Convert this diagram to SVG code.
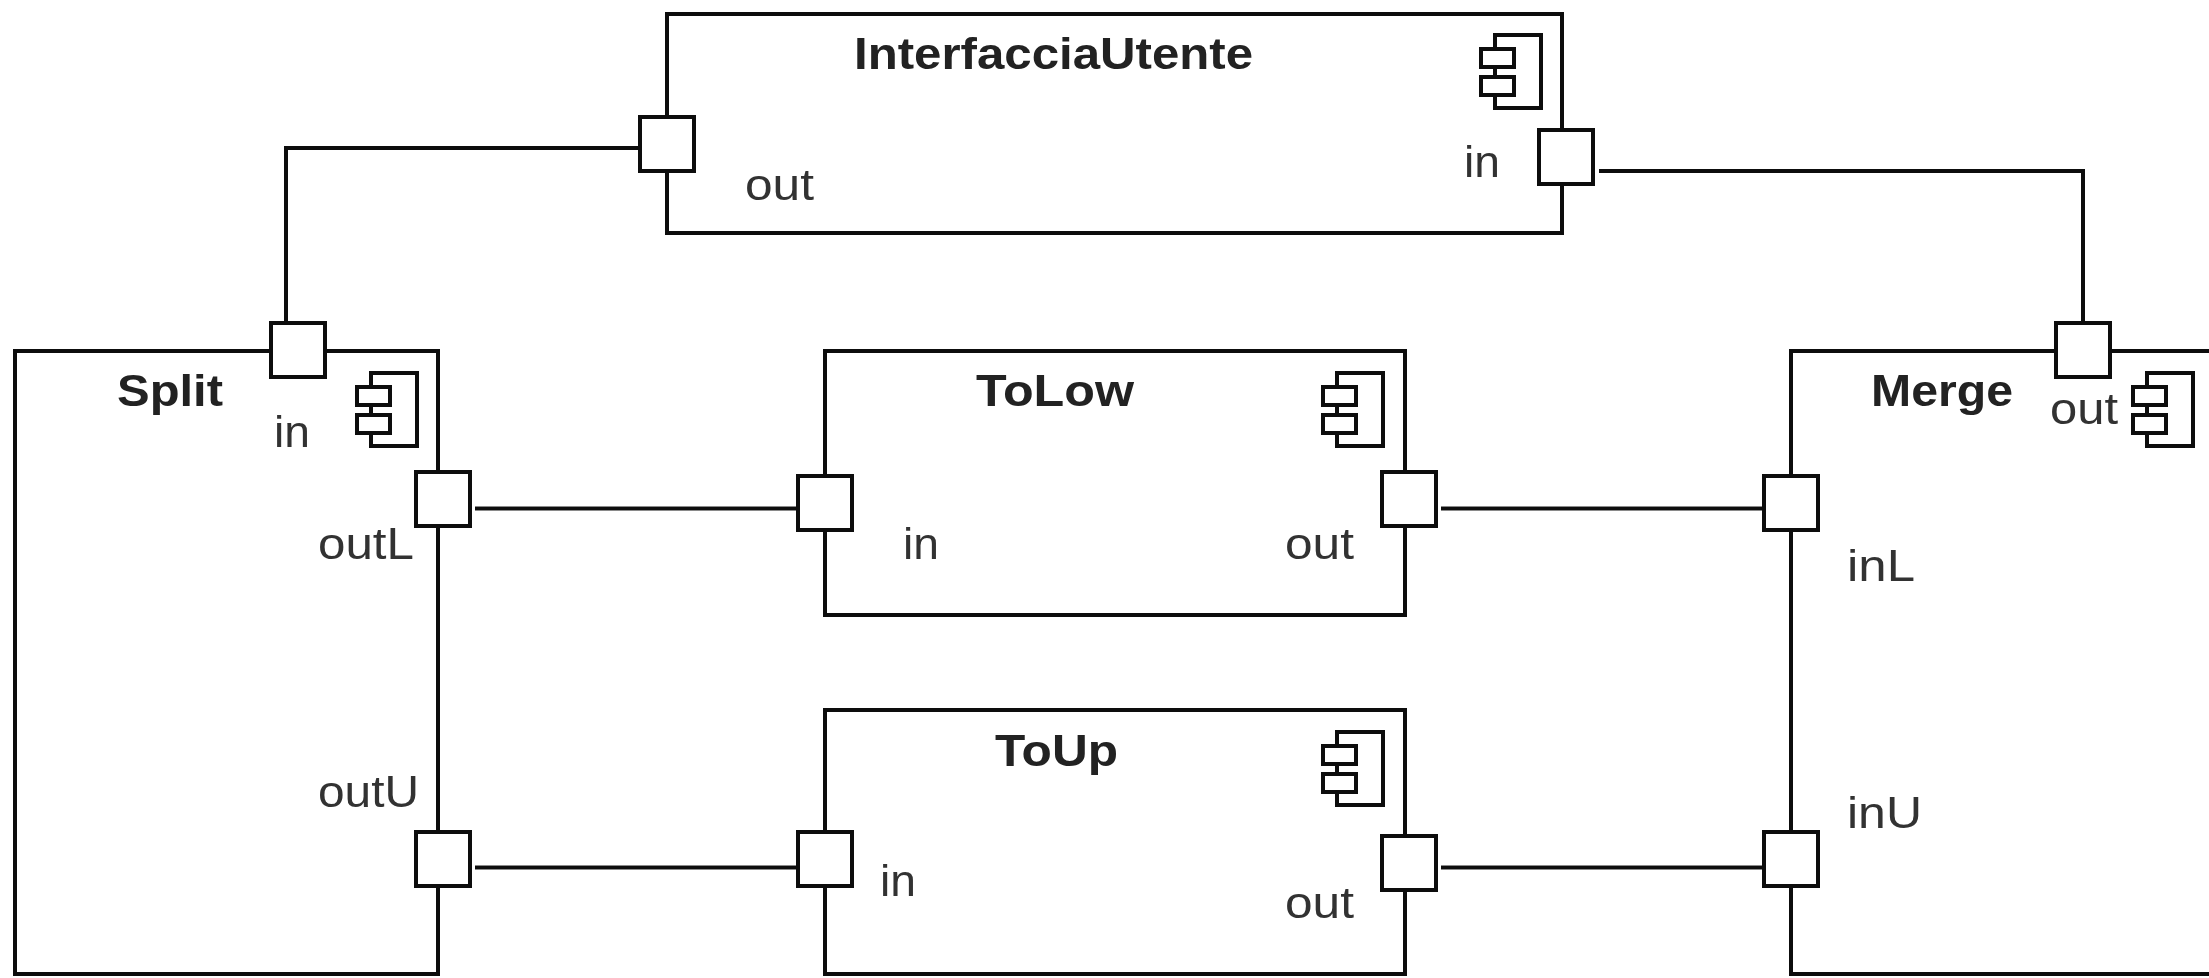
<svg xmlns="http://www.w3.org/2000/svg" width="2209" height="978" viewBox="0 0 2209 978">
<defs>
<style>
.b{fill:#fff;stroke:#111;stroke-width:4}
.c{fill:none;stroke:#111;stroke-width:4}
.t{font-family:"Liberation Sans",Arial,sans-serif;font-size:45px;font-weight:bold;fill:#222}
.l{font-family:"Liberation Sans",Arial,sans-serif;font-size:45px;fill:#333}
</style>
<filter id="soft" filterUnits="userSpaceOnUse" x="0" y="0" width="2209" height="978"><feGaussianBlur stdDeviation="0.7"/></filter>
<g id="icon">
<rect class="b" x="14" y="0" width="46" height="73"/>
<rect class="b" x="0" y="14" width="33" height="18"/>
<rect class="b" x="0" y="42" width="33" height="18"/>
</g>
</defs>
<rect width="2209" height="978" fill="#fff"/>
<g filter="url(#soft)">
<g id="connectors">
<path class="c" d="M640 148H286V321"/>
<path class="c" d="M1599 171H2083V322"/>
<path class="c" d="M475 508.500H797"/>
<path class="c" d="M1441 508.500H1764"/>
<path class="c" d="M475 867.500H797"/>
<path class="c" d="M1441 867.500H1764"/>
</g>
<g id="InterfacciaUtente">
<rect class="b" x="667" y="14" width="895" height="219"/>
<use href="#icon" x="1481" y="35"/>
<text class="t" x="854" y="69" textLength="399" lengthAdjust="spacingAndGlyphs">InterfacciaUtente</text>
<rect class="b" x="640" y="117" width="54" height="54"/>
<text class="l" x="745" y="200" textLength="69" lengthAdjust="spacingAndGlyphs">out</text>
<rect class="b" x="1539" y="130" width="54" height="54"/>
<text class="l" x="1464" y="177" textLength="36" lengthAdjust="spacingAndGlyphs">in</text>
</g>
<g id="Split">
<rect class="b" x="15" y="351" width="423" height="623"/>
<use href="#icon" x="357" y="373"/>
<text class="t" x="117" y="406" textLength="106" lengthAdjust="spacingAndGlyphs">Split</text>
<rect class="b" x="271" y="323" width="54" height="54"/>
<text class="l" x="274" y="447" textLength="36" lengthAdjust="spacingAndGlyphs">in</text>
<rect class="b" x="416" y="472" width="54" height="54"/>
<text class="l" x="318" y="559" textLength="96" lengthAdjust="spacingAndGlyphs">outL</text>
<rect class="b" x="416" y="832" width="54" height="54"/>
<text class="l" x="318" y="807" textLength="101" lengthAdjust="spacingAndGlyphs">outU</text>
</g>
<g id="ToLow">
<rect class="b" x="825" y="351" width="580" height="264"/>
<use href="#icon" x="1323" y="373"/>
<text class="t" x="976" y="406" textLength="158" lengthAdjust="spacingAndGlyphs">ToLow</text>
<rect class="b" x="798" y="476" width="54" height="54"/>
<text class="l" x="903" y="559" textLength="36" lengthAdjust="spacingAndGlyphs">in</text>
<rect class="b" x="1382" y="472" width="54" height="54"/>
<text class="l" x="1285" y="559" textLength="69" lengthAdjust="spacingAndGlyphs">out</text>
</g>
<g id="ToUp">
<rect class="b" x="825" y="710" width="580" height="264"/>
<use href="#icon" x="1323" y="732"/>
<text class="t" x="995" y="766" textLength="123" lengthAdjust="spacingAndGlyphs">ToUp</text>
<rect class="b" x="798" y="832" width="54" height="54"/>
<text class="l" x="880" y="896" textLength="36" lengthAdjust="spacingAndGlyphs">in</text>
<rect class="b" x="1382" y="836" width="54" height="54"/>
<text class="l" x="1285" y="918" textLength="69" lengthAdjust="spacingAndGlyphs">out</text>
</g>
<g id="Merge">
<rect class="b" x="1791" y="351" width="440" height="623"/>
<use href="#icon" x="2133" y="373"/>
<text class="t" x="1871" y="406" textLength="142" lengthAdjust="spacingAndGlyphs">Merge</text>
<rect class="b" x="2056" y="323" width="54" height="54"/>
<text class="l" x="2050" y="424" textLength="68" lengthAdjust="spacingAndGlyphs">out</text>
<rect class="b" x="1764" y="476" width="54" height="54"/>
<text class="l" x="1847" y="581" textLength="68" lengthAdjust="spacingAndGlyphs">inL</text>
<rect class="b" x="1764" y="832" width="54" height="54"/>
<text class="l" x="1847" y="828" textLength="75" lengthAdjust="spacingAndGlyphs">inU</text>
</g>
</g>
</svg>
